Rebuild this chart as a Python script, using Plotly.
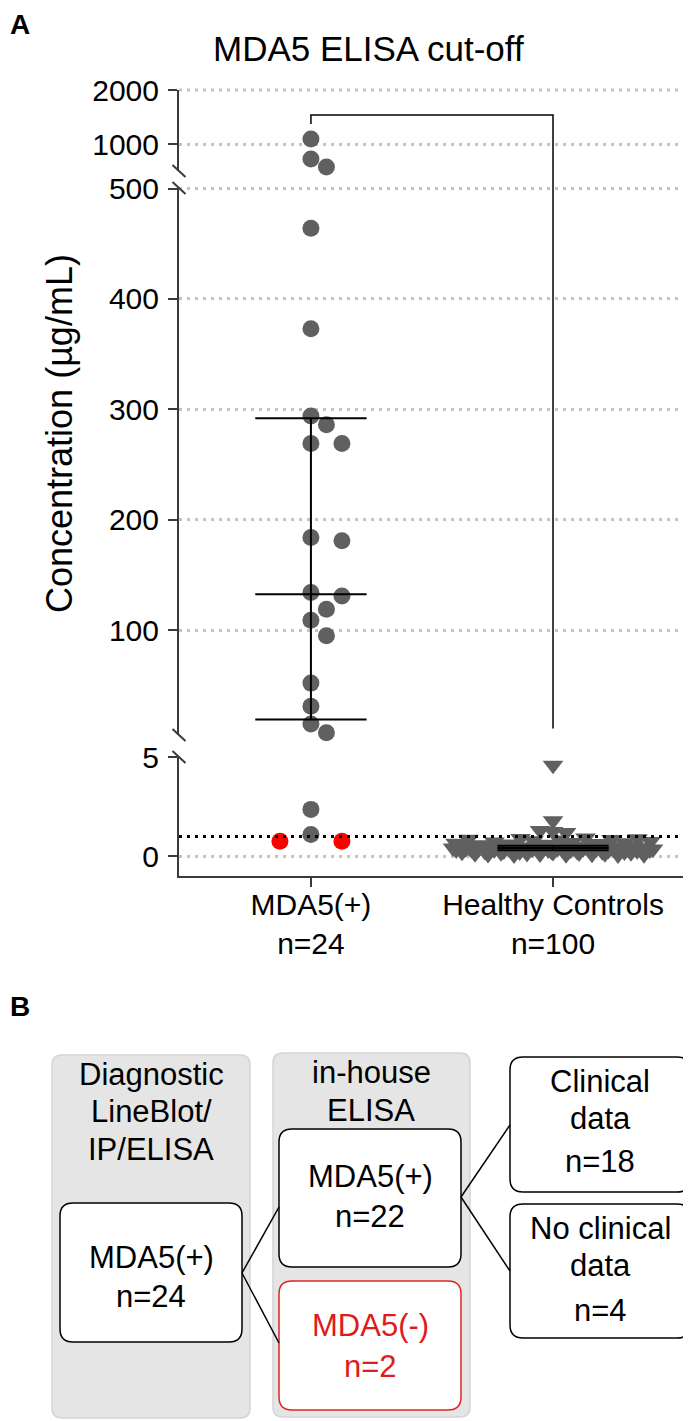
import numpy as np
import plotly.graph_objects as go

# ---- data (µg/mL) ----
groups = ["MDA5(+)", "Healthy Controls"]
group_n = [24, 100]
mda5_values = [1093, 722, 574, 464, 373, 294, 286, 269, 269, 184, 181, 134,
               131, 119, 109, 95, 52, 31, 15, 7, 2.37, 1.1, 0.76, 0.76]
hc_values = [0.42, 0.66, 0.31, 0.47, 0.20, 0.53, 0.38, 0.86, 0.12, 0.45,
             0.30, 0.58, 0.43, 1.30, 0.35, 0.49, 0.24, 0.72, 0.40, 0.09,
             0.50, 0.33, 4.60, 0.44, 0.62, 0.17, 0.36, 0.90, 0.27, 0.48,
             0.41, 0.06, 0.54, 0.39, 0.78, 0.22, 0.45, 0.34, 1.25, 0.43,
             0.60, 0.14, 0.37, 0.51, 0.29, 0.82, 0.42, 0.11, 0.46, 0.70,
             0.32, 0.25, 0.53, 0.40, 0.92, 0.19, 0.44, 0.36, 0.49, 0.07,
             0.64, 0.31, 0.43, 1.80, 0.26, 0.47, 0.38, 0.85, 0.16, 0.45,
             0.50, 0.35, 0.10, 0.41, 0.56, 0.23, 0.44, 0.68, 0.30, 0.46,
             0.13, 0.42, 0.88, 0.33, 0.48, 0.21, 0.39, 1.20, 0.40, 0.52,
             0.28, 0.75, 0.43, 0.06, 0.36, 0.18, 0.34, 0.08, 0.32, 0.37]
cutoff = 1.0
bracket_top, bracket_left_end, bracket_right_end = 1540, 1370, 11

# broken y axis: bottom, middle, top segment
seg_ranges = [[-1, 5.02], [5, 500.5], [500, 2001]]
seg_ticks = [[0, 5], [100, 200, 300, 400, 500], [1000, 2000]]

# ---- layout in page pixels (page body keeps an 8px margin) ----
PAGE_W, PAGE_H, PAD = 691, 1421, 8
W, H = PAGE_W - PAD, PAGE_H - PAD
PLOT_X = (179, 691)
seg_px = [(757, 876), (188, 735), (90, 171)]   # (top, bottom) of each segment
x_range = [-0.545, 1.57]
xids = ["x", "x2", "x3"]
yids = ["y", "y2", "y3"]
GREY = "#606060"
RED = "#ff0000"
AXC = "#3a3a3a"
GRIDC = "#c4c4c4"
FONT = "Liberation Sans, Arial, sans-serif"
PX_PER_CAT = (PLOT_X[1] - PLOT_X[0]) / (x_range[1] - x_range[0])


def fx(px):
    return (px - PAD) / W


def fy(py):
    return 1 - (py - PAD) / H


def seg_of(v):
    if v <= 5:
        return 0
    if v <= 500:
        return 1
    return 2


def to_px(v, s):
    lo, hi = seg_ranges[s]
    top, bot = seg_px[s]
    return bot - (v - lo) / (hi - lo) * (bot - top)


def swarm(values, d, step):
    """greedy beeswarm, returns horizontal offsets in category units"""
    placed = {0: [], 1: [], 2: []}
    offs = [0.0] * len(values)
    cands = [0.0] + [sg * k * step for k in range(1, 400) for sg in (1, -1)]
    for i in np.argsort(-np.asarray(values), kind="stable"):
        s = seg_of(values[i])
        yp = to_px(values[i], s)
        for c in cands:
            if all((c - a) ** 2 + (yp - b) ** 2 >= d * d for a, b in placed[s]):
                break
        placed[s].append((c, yp))
        offs[i] = c / PX_PER_CAT
    return offs


def row_swarm(values, row_h, spacing, max_half):
    """points grouped in rows of row_h px, each row spread (and squeezed) to fit the column"""
    ys = [to_px(v, seg_of(v)) for v in values]
    order = sorted(range(len(values)), key=lambda i: (-seg_of(values[i]), ys[i]))
    rows = []
    for i in order:
        if rows and seg_of(values[rows[-1][0]]) == seg_of(values[i]) and ys[i] - ys[rows[-1][0]] <= row_h:
            rows[-1].append(i)
        else:
            rows.append([i])
    offs = [0.0] * len(values)
    for row in rows:
        n = len(row)
        sp = spacing if n == 1 else min(spacing, 2 * max_half / (n - 1))
        for k, i in enumerate(sorted(row)):
            offs[i] = (k - (n - 1) / 2) * sp / PX_PER_CAT
    return offs


fig = go.Figure()

# ---- points ----
point_sets = [
    (0, mda5_values, swarm(mda5_values, 17, 15.5), "circle", 17, True),
    (1, hc_values, row_swarm(hc_values, 7, 13, 100), "triangle-down", 18, False),
]
for gx, vals, offs, sym, size, mark_neg in point_sets:
    for s in range(3):
        idx = [i for i, v in enumerate(vals) if seg_of(v) == s]
        if not idx:
            continue
        fig.add_trace(go.Scatter(
            x=[gx + offs[i] for i in idx], y=[vals[i] for i in idx],
            xaxis=xids[s], yaxis=yids[s], mode="markers", cliponaxis=False,
            marker=dict(symbol=sym, size=size, line=dict(width=0),
                        color=[RED if (mark_neg and vals[i] < cutoff) else GREY for i in idx]),
            hoverinfo="y", showlegend=False))

# ---- median with interquartile range ----
hw = 0.23
for gx, vals in [(0, mda5_values), (1, hc_values)]:
    q1, med, q3 = np.percentile(vals, [25, 50, 75], method="weibull")
    s = seg_of(med)
    xs, ys = [], []
    for q in (q1, med, q3):
        xs += [gx - hw, gx + hw, None]
        ys += [q, q, None]
    xs += [gx, gx]
    ys += [q1, q3]
    fig.add_trace(go.Scatter(x=xs, y=ys, xaxis=xids[s], yaxis=yids[s], mode="lines",
                             line=dict(color="black", width=2),
                             hoverinfo="skip", showlegend=False))

# ---- bracket between groups ----
fig.add_trace(go.Scatter(x=[0, 0, 1, 1], y=[bracket_left_end, bracket_top, bracket_top, seg_ranges[2][0]],
                         xaxis="x3", yaxis="y3", mode="lines", line=dict(color="black", width=1.5),
                         hoverinfo="skip", showlegend=False))
fig.add_trace(go.Scatter(x=[1, 1], y=[seg_ranges[1][1], bracket_right_end],
                         xaxis="x2", yaxis="y2", mode="lines", line=dict(color="black", width=1.5),
                         hoverinfo="skip", showlegend=False))
fig.add_shape(type="line", xref="x", yref="paper", x0=1, x1=1,
              y0=fy(seg_px[2][1]), y1=fy(seg_px[1][0]), line=dict(color="black", width=1.5))

# grid lines sitting on the top edge of the upper segments
for s in (1, 2):
    lo, hi = seg_ranges[s]
    yd = (seg_ticks[s][-1] - lo) / (hi - lo)
    fig.add_shape(type="line", xref="x domain", yref="%s domain" % yids[s], x0=0, x1=1,
                  y0=yd, y1=yd, line=dict(color=GRIDC, width=3, dash="3px,5px"))

# cut-off line
fig.add_shape(type="line", xref="x domain", yref="y", x0=0, x1=1, y0=cutoff, y1=cutoff,
              line=dict(color="black", width=3, dash="3px,5px"))

# axis break marks
for yb in [seg_px[2][1], seg_px[1][0], seg_px[1][1], seg_px[0][0]]:
    fig.add_shape(type="line", xref="paper", yref="paper",
                  x0=fx(PLOT_X[0] - 6.5), x1=fx(PLOT_X[0] + 6.5), y0=fy(yb - 6), y1=fy(yb + 6),
                  line=dict(color=AXC, width=2))

axis_common = dict(showline=True, linecolor=AXC, linewidth=2, ticks="outside", ticklen=9,
                   tickwidth=2, tickcolor=AXC, zeroline=False, automargin=False,
                   tickfont=dict(size=30, color="black", family=FONT))
layout_axes = {}
for s in range(3):
    name = "yaxis" if s == 0 else "yaxis%d" % (s + 1)
    layout_axes[name] = dict(axis_common, anchor=xids[s], range=seg_ranges[s],
                             domain=[fy(seg_px[s][1]), fy(seg_px[s][0])],
                             tickvals=seg_ticks[s], showgrid=True, gridcolor=GRIDC,
                             gridwidth=3, griddash="3px,5px", ticklabelstandoff=3)
layout_axes["xaxis"] = dict(axis_common, anchor="y", range=x_range,
                            domain=[fx(PLOT_X[0]), fx(PLOT_X[1])], showgrid=False,
                            tickvals=[0, 1], ticklabelstandoff=-8,
                            ticktext=["%s<br>n=%d" % (g, n) for g, n in zip(groups, group_n)])
# hidden twins of the x axis for the upper segments
for s in (1, 2):
    layout_axes["xaxis%d" % (s + 1)] = dict(anchor=yids[s], range=x_range, matches="x",
                                           domain=[fx(PLOT_X[0]), fx(PLOT_X[1])],
                                           showline=False, showgrid=False, zeroline=False,
                                           showticklabels=False, ticks="")


def text_at(x, baseline, text, size=31, color="black", bold=False, angle=0, family=FONT):
    if bold:
        text = "<b>%s</b>" % text
    yc = baseline if angle else baseline - 0.347 * size
    fig.add_annotation(x=fx(x), y=fy(yc), xref="paper", yref="paper", text=text,
                       textangle=angle, showarrow=False, xanchor="center", yanchor="middle",
                       borderpad=0, font=dict(size=size, color=color, family=family))


text_at(368, 61, "MDA5 ELISA cut-off", size=35)
text_at(60, 434, "Concentration (µg/mL)", size=36, angle=-90)
text_at(19.5, 34, "A", size=28, bold=True)
text_at(19.5, 1016, "B", size=28, bold=True)


# ---- panel B: flow diagram ----
def rounded_rect(x0, y0, x1, y1, r, fill, line, lw=1.5):
    pts = [("M", x0 + r, y0), ("L", x1 - r, y0), ("Q", x1, y0, x1, y0 + r),
           ("L", x1, y1 - r), ("Q", x1, y1, x1 - r, y1), ("L", x0 + r, y1),
           ("Q", x0, y1, x0, y1 - r), ("L", x0, y0 + r), ("Q", x0, y0, x0 + r, y0)]
    path = ""
    for p in pts:
        coords = " ".join("%.5f,%.5f" % (fx(p[k]), fy(p[k + 1])) for k in range(1, len(p), 2))
        path += p[0] + " " + coords + " "
    fig.add_shape(type="path", path=path + "Z", xref="paper", yref="paper",
                  fillcolor=fill, line=dict(color=line, width=lw), layer="below")


rounded_rect(52, 1055, 250, 1418, 10, "#e5e5e5", "#d4d4d4")
rounded_rect(273, 1053, 470, 1417, 10, "#e5e5e5", "#d4d4d4")
rounded_rect(60, 1203, 242, 1342, 13, "white", "black")
rounded_rect(279, 1129, 461, 1267, 13, "white", "black")
rounded_rect(279, 1281, 461, 1410, 13, "white", "#dd2525")
rounded_rect(510, 1057, 690, 1192, 13, "white", "black")
rounded_rect(510, 1204, 690, 1338, 13, "white", "black")

for (xa, ya), (xb, yb) in [((242, 1273), (279, 1207)), ((242, 1273), (279, 1343)),
                           ((461, 1197), (510, 1125)), ((461, 1197), (510, 1271))]:
    fig.add_shape(type="line", xref="paper", yref="paper", x0=fx(xa), y0=fy(ya),
                  x1=fx(xb), y1=fy(yb), line=dict(color="black", width=1.5))

box_texts = [
    (151, [("Diagnostic", 1085), ("LineBlot/", 1122), ("IP/ELISA", 1160)], "black"),
    (371, [("in-house", 1083), ("ELISA", 1121)], "black"),
    (151, [("MDA5(+)", 1268), ("n=24", 1307)], "black"),
    (370, [("MDA5(+)", 1187), ("n=22", 1227)], "black"),
    (370, [("MDA5(-)", 1336), ("n=2", 1377)], "#e01b1b"),
    (600, [("Clinical", 1092), ("data", 1129), ("n=18", 1172)], "black"),
    (600, [("No clinical", 1239), ("data", 1276), ("n=4", 1321)], "black"),
]
for xc, lines, col in box_texts:
    for t, base in lines:
        text_at(xc, base, t, size=31, color=col)

fig.update_layout(width=W, height=H, margin=dict(l=0, r=0, t=0, b=0, autoexpand=False),
                  paper_bgcolor="white", plot_bgcolor="white", showlegend=False,
                  font=dict(family=FONT, color="black"), **layout_axes)

fig.write_html("out.html")
